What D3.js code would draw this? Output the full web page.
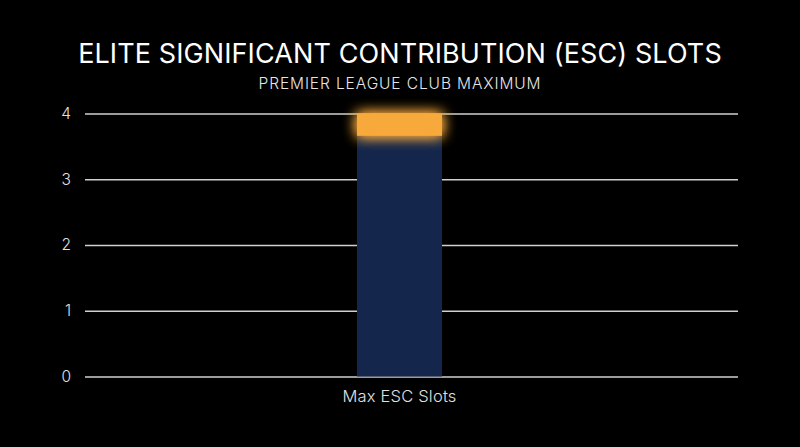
<!DOCTYPE html>
<html><head><meta charset="utf-8">
<script src="https://cdn.jsdelivr.net/npm/d3@7"></script>
<style>
html,body{margin:0;padding:0;background:#000;}
svg{display:block;}
text{font-family:"Inter","Noto Sans",sans-serif;}
</style></head>
<body>
<script>
const categories = ["Max ESC Slots"];
const baseValues = [3.66];
const topValues = [0.34];
const yTicks = [0, 1, 2, 3, 4];
const title = "ELITE SIGNIFICANT CONTRIBUTION (ESC) SLOTS";
const subtitle = "PREMIER LEAGUE CLUB MAXIMUM";

const W = 800, H = 447;
const svg = d3.select("body").append("svg").attr("width", W).attr("height", H);
svg.append("rect").attr("width", W).attr("height", H).attr("fill", "#000");

const defs = svg.append("defs");
const f = defs.append("filter").attr("id","glow").attr("x","-50%").attr("y","-150%").attr("width","200%").attr("height","400%");
f.append("feGaussianBlur").attr("in","SourceGraphic").attr("stdDeviation",7).attr("result","b");
const m = f.append("feMerge");
m.append("feMergeNode").attr("in","b");
m.append("feMergeNode").attr("in","b");
m.append("feMergeNode").attr("in","SourceGraphic");

const gridLeft = 85, gridRight = 738;
const x = d3.scaleBand().domain(categories).range([357, 442]).padding(0);
const y = d3.scaleLinear().domain([0, 4]).range([376.5, 113.5]);

svg.append("text").attr("x", W/2).attr("y", 63).attr("text-anchor","middle")
  .attr("fill","#fff").attr("font-size", 27).attr("font-weight", 400).attr("letter-spacing", 0.1).text(title);
svg.append("text").attr("x", W/2).attr("y", 89).attr("text-anchor","middle")
  .attr("fill","#e6e6e6").attr("font-size", 15.5).attr("font-weight", 300).attr("letter-spacing", 0.9).text(subtitle);

const yAxis = d3.axisLeft(y).tickValues(yTicks).tickSize(-(gridRight - gridLeft)).tickPadding(14).tickFormat(d3.format("d"));
const gy = svg.append("g").attr("transform", `translate(${gridLeft},0)`).call(yAxis);
gy.select(".domain").remove();
gy.selectAll(".tick line").attr("stroke","#d0d0d0").attr("stroke-width",1.5);
gy.selectAll(".tick text").attr("fill","#e0e0e0").attr("font-size",15.5).attr("font-weight",300);

const bars = svg.append("g");
bars.selectAll("rect.base").data(categories).join("rect").attr("class","base")
  .attr("x", d => x(d)).attr("width", x.bandwidth())
  .attr("y", (d,i) => y(baseValues[i])).attr("height", (d,i) => y(0) - y(baseValues[i]))
  .attr("fill", "#14264c");
bars.selectAll("rect.top").data(categories).join("rect").attr("class","top")
  .attr("x", d => x(d)).attr("width", x.bandwidth())
  .attr("y", (d,i) => y(baseValues[i] + topValues[i])).attr("height", (d,i) => y(baseValues[i]) - y(baseValues[i] + topValues[i]))
  .attr("fill", "#f7a93b").attr("filter","url(#glow)");

const xAxis = d3.axisBottom(x).tickSize(0).tickPadding(14);
const gx = svg.append("g").attr("transform", `translate(0,${y(0)})`).call(xAxis);
gx.select(".domain").remove();
gx.selectAll(".tick text").attr("fill","#e0e0e0").attr("font-size",16.5).attr("font-weight",300).attr("letter-spacing",0.2);
</script>
</body></html>
